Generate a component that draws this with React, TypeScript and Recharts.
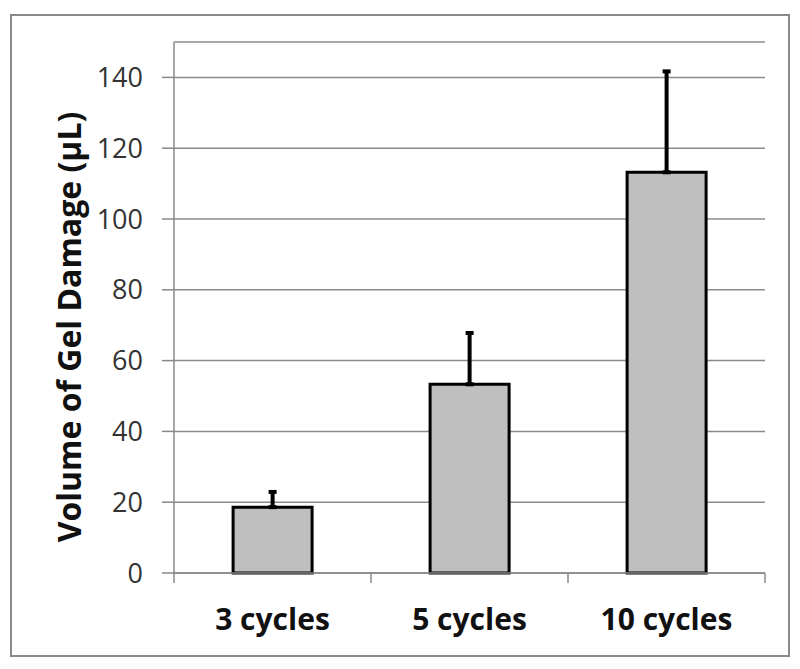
import { BarChart, Bar, XAxis, YAxis, CartesianGrid, ErrorBar } from 'recharts'

const categories = ['3 cycles', '5 cycles', '10 cycles']
const damage = [18.6, 53.3, 113.2]
const errUp = [4.3, 14.5, 28.5]
const yTicks = [0, 20, 40, 60, 80, 100, 120, 140]

const data = categories.map((c, i) => ({ name: c, value: damage[i], err: [0, errUp[i]] }))

const W = 800
const H = 669
const PLOT_LEFT = 174
const PLOT_RIGHT = 765
const AXIS_Y = 573
const BAND = (PLOT_RIGHT - PLOT_LEFT) / categories.length

function XTick(props: any) {
  const { x, payload, index } = props
  return (
    <g>
      <line x1={x - BAND / 2} x2={x - BAND / 2} y1={AXIS_Y} y2={AXIS_Y + 10} stroke="#888" strokeWidth={1.5} />
      {index === categories.length - 1 && (
        <line x1={x + BAND / 2} x2={x + BAND / 2} y1={AXIS_Y} y2={AXIS_Y + 10} stroke="#888" strokeWidth={1.5} />
      )}
      <text
        x={x}
        y={AXIS_Y + 45}
        textAnchor="middle"
        dominantBaseline="central"
        fontFamily="'Open Sans', sans-serif"
        fontWeight="bold"
        fontSize={30}
        fill="#111"
      >
        {payload.value}
      </text>
    </g>
  )
}

function YTitle() {
  const cx = 68
  const cy = 327
  return (
    <text
      x={cx}
      y={cy}
      transform={`rotate(-90, ${cx}, ${cy})`}
      textAnchor="middle"
      dominantBaseline="central"
      fontFamily="'Open Sans', sans-serif"
      fontWeight="bold"
      fontSize={32}
      fill="#111"
    >
      Volume of Gel Damage (µL)
    </text>
  )
}

export default function App() {
  return (
    <div style={{ position: 'relative', width: W, height: H, margin: -8, background: '#fff' }}>
      <div
        style={{
          position: 'absolute',
          left: 10,
          top: 14,
          width: 780,
          height: 643,
          boxSizing: 'border-box',
          border: '2px solid #8a8a8a',
        }}
      />
      <div style={{ position: 'absolute', left: 0, top: 0 }}>
        <BarChart
          width={W}
          height={H}
          data={data}
          margin={{ top: 42, right: W - PLOT_RIGHT, left: 0, bottom: 0 }}
          barCategoryGap="30%"
        >
          <CartesianGrid vertical={false} stroke="#8c8c8c" strokeWidth={1.5} />
          <XAxis
            dataKey="name"
            height={H - AXIS_Y}
            axisLine={{ stroke: '#888', strokeWidth: 1.5 }}
            tickLine={false}
            tick={<XTick />}
            interval={0}
          />
          <YAxis
            width={PLOT_LEFT}
            domain={[0, 150]}
            ticks={yTicks}
            interval={0}
            axisLine={{ stroke: '#888', strokeWidth: 1.5 }}
            tickLine={{ stroke: '#888', strokeWidth: 1.5 }}
            tickSize={12}
            tickMargin={19}
            tick={{ fontFamily: "'Open Sans', sans-serif", fontSize: 27, fill: '#333' }}
            label={<YTitle />}
          />
          <Bar dataKey="value" fill="#bfbfbf" stroke="#000" strokeWidth={3} isAnimationActive={false}>
            <ErrorBar dataKey="err" direction="y" width={4} stroke="#000" strokeWidth={4} isAnimationActive={false} />
          </Bar>
        </BarChart>
      </div>
    </div>
  )
}
